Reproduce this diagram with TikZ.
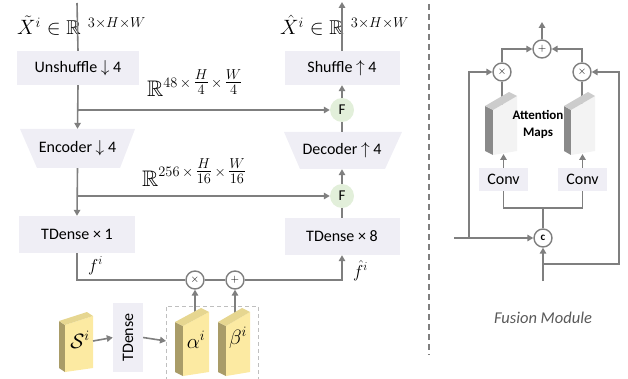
\documentclass[tikz,border=0pt]{standalone}
\usepackage{amsmath,amssymb}
\usepackage{fontspec}
\setsansfont{Carlito}
\usetikzlibrary{arrows.meta}

\definecolor{linegray}{HTML}{7F7F7F}
\definecolor{boxfill}{HTML}{EFEEF5}
\definecolor{fgreen}{HTML}{E2EFDA}
\definecolor{slabfront}{HTML}{FCEAA2}
\definecolor{slabside}{HTML}{A99C68}
\definecolor{slabtop}{HTML}{E6D690}
\definecolor{mapfront}{HTML}{F3F3F3}
\definecolor{mapside}{HTML}{8A8A8A}
\definecolor{maptop}{HTML}{CCCCCC}
\definecolor{fmgray}{HTML}{595959}
\definecolor{dashgray}{HTML}{BFBFBF}

% a thin panel seen in perspective: left x, top y, side width, front width, height, rise, colour prefix
\newcommand{\panel}[7]{%
  \fill[#7side] (#1,#2) -- ({#1+#3},{#2+4}) -- ({#1+#3},{#2+4+#5}) -- (#1,{#2+#5}) -- cycle;
  \fill[#7front] ({#1+#3},{#2+4}) -- ({#1+#3+#4},{#2+4-#6}) -- ({#1+#3+#4},{#2+#5}) -- ({#1+#3},{#2+4+#5}) -- cycle;
  \fill[#7top] (#1,#2) -- ({#1+#4},{#2-#6}) -- ({#1+#3+#4},{#2+4-#6}) -- ({#1+#3},{#2+4}) -- cycle;
}
\newcommand{\sptimes}{\mkern3mu\times\mkern3mu}

\begin{document}
\begin{tikzpicture}[x=1pt,y=-1pt,
  conn/.style={draw=linegray, line width=1.6pt},
  arr/.style={conn, -{Triangle[length=6pt,width=6.5pt]}},
  blk/.style={fill=boxfill, inner sep=0pt, font=\sffamily\fontsize{16}{18}\selectfont},
  txt/.style={inner sep=0pt, font=\sffamily\fontsize{16}{18}\selectfont},
  fuse/.style={circle, fill=fgreen, minimum size=24pt, inner sep=0pt, font=\sffamily\fontsize{15}{17}\selectfont},
  op/.style={circle, draw=linegray, line width=1.4pt, fill=white, minimum size=18pt, inner sep=0pt, font=\sffamily\bfseries\fontsize{11}{12}\selectfont},
  lbl/.style={inner sep=0pt, font=\fontsize{20}{24}\selectfont},
  sklbl/.style={inner sep=0pt, font=\fontsize{22.5}{26}\selectfont},
  flbl/.style={inner sep=0pt, font=\fontsize{18}{22}\selectfont}]

\useasboundingbox (0,0) rectangle (628,379);

% ---------- encoder side ----------
\node[lbl, anchor=base west] (xin) at (17,35) {$\tilde{X}^i \in \mathbb{R}^{\mkern9mu 3\times H\times W}$};
\node[blk, minimum width=122, minimum height=34] (unsh) at (78,68) {Unshuffle $\downarrow$ 4};
\fill[boxfill] (20,129) -- (135,129) -- (120,168) -- (37,168) -- cycle;
\node[txt, minimum width=115, minimum height=39] (enc) at (77.5,148.5) {Encoder $\downarrow$ 4};
\node[blk, minimum width=116, minimum height=37] (td1) at (77,234.5) {TDense × 1};

% ---------- decoder side ----------
\node[lbl, anchor=base west] (xout) at (280,35) {$\hat{X}^i \in \mathbb{R}^{\mkern9mu 3\times H\times W}$};
\node[blk, minimum width=115, minimum height=34] (shuf) at (342,68) {Shuffle $\uparrow$ 4};
\node[fuse] (F1) at (342,110) {F};
\fill[boxfill] (284,132) -- (402,132) -- (385,169) -- (300,169) -- cycle;
\node[txt, minimum width=118, minimum height=37] (dec) at (342,150.5) {Decoder $\uparrow$ 4};
\node[fuse] (F2) at (342,196) {F};
\node[blk, minimum width=115, minimum height=37] (td8) at (342,236.5) {TDense × 8};

% skip connections
\node[sklbl, anchor=base west] (sk1) at (147,97) {$\mathbb{R}^{48\sptimes\tfrac{H}{4}\sptimes\tfrac{W}{4}}$};
\node[sklbl, anchor=base west] (sk2) at (142,186) {$\mathbb{R}^{256\sptimes\tfrac{H}{16}\sptimes\tfrac{W}{16}}$};
\coordinate (in0) at (77,3);
\coordinate (br1) at (77,110);
\coordinate (br2) at (77,196);
\coordinate (out0) at (342,2);

\draw[conn] (in0) -- (unsh.north);
\draw[arr] (unsh.south) -- (enc.north);
\draw[arr] (br1) -- (F1.west);
\draw[arr] (enc.south) -- (td1.north);
\draw[arr] (br2) -- (F2.west);

\draw[conn] (td8.north) -- (F2.south);
\draw[arr] (F2.north) -- (dec.south);
\draw[conn] (dec.north) -- (F1.south);
\draw[arr] (F1.north) -- (shuf.south);
\draw[arr] (shuf.north) -- (out0);

% ---------- modulation ----------
\node[op] (mul) at (195,280) {$\times$};
\node[op] (add) at (235,280) {$+$};
\draw[conn] (td1.south) |- (mul.west);
\draw[conn] (mul.east) -- (add.west);
\draw[arr] (add.east) -| (td8.south);
\node[flbl, anchor=base west] (fi) at (88,271) {$f^i$};
\node[flbl, anchor=base west] (fhat) at (353,277) {$\hat{f}^i$};

\panel{59}{321}{6}{28}{47}{9}{slab}
\node[lbl] (sl) at (80,340) {$\mathcal{S}^i$};
\node[blk, minimum width=30, minimum height=69] (tdv) at (128,337.5) {\rotatebox{90}{TDense}};

\draw[dashgray, line width=0.9pt, dash pattern=on 4pt off 3pt] (166,381) -- (166,306) -- (258,306) -- (258,381);
\coordinate (cbin) at (166,341);

\coordinate (alup) at (195,313);
\coordinate (beup) at (235,313);
\draw[arr] (alup) -- (mul.south);
\draw[arr] (beup) -- (add.south);
\panel{175}{322}{8}{26}{50}{14}{slab}
\panel{218}{322}{8}{24}{50}{14}{slab}
\node[lbl] (al) at (196,340) {$\alpha^i$};
\node[lbl] (be) at (238,338) {$\beta^i$};

\coordinate (slout) at (93,341);
\draw[arr] (slout) -- (tdv.west);
\draw[arr] (tdv.east) -- (cbin);

% ---------- separator ----------
\coordinate (sepT) at (429,4);
\coordinate (sepB) at (429,355);
\draw[linegray, line width=1.3pt, dash pattern=on 6pt off 4pt] (sepT) -- (sepB);

% ---------- fusion module ----------
\node[op] (plus) at (542,49) {$+$};
\node[op] (mulL) at (502,72) {$\times$};
\node[op] (mulR) at (582,72) {$\times$};
\node[op] (cat) at (543,238) {c};
\coordinate (outtop) at (542,22);
\draw[arr] (plus) -- (outtop);
\draw[arr] (mulL.north) |- (plus.west);
\draw[arr] (mulR.north) |- (plus.east);

\coordinate (mapL) at (502,115);
\coordinate (mapR) at (582,115);
\draw[conn] (mapL) -- (mulL.south);
\draw[conn] (mapR) -- (mulR.south);
\panel{485}{106}{8}{24}{45}{14}{map}
\panel{564}{106}{7}{24}{45}{14}{map}
\node[inner sep=0pt, align=center, font=\sffamily\bfseries\fontsize{13}{17}\selectfont] (attn) at (538,124) {Attention\\Maps};

\node[blk, minimum width=49, minimum height=23] (convL) at (503.5,179.5) {Conv};
\node[blk, minimum width=49, minimum height=23] (convR) at (582.5,179.5) {Conv};
\coordinate (mapLb) at (503.5,154);
\coordinate (mapRb) at (582.5,154);
\draw[arr] (convL.north) -- (mapLb);
\draw[arr] (convR.north) -- (mapRb);

\coordinate (jn) at (543,208);
\draw[conn] (convL.south) |- (jn) -| (convR.south);
\draw[conn] (jn) -- (cat.north);

\coordinate (inL) at (454,238);
\coordinate (tapL) at (469,238);
\draw[arr] (inL) -- (cat.west);
\draw[arr] (tapL) |- (mulL.west);

\coordinate (inB) at (543,281);
\coordinate (tapB) at (543,264);
\coordinate (cornR) at (619,264);
\draw[arr] (inB) -- (cat.south);
\draw[arr] (tapB) -- (cornR) |- (mulR.east);

\node[inner sep=0pt, text=fmgray, font=\sffamily\itshape\fontsize{16.5}{18}\selectfont] (fm) at (543,318) {Fusion Module};
\end{tikzpicture}
\end{document}
